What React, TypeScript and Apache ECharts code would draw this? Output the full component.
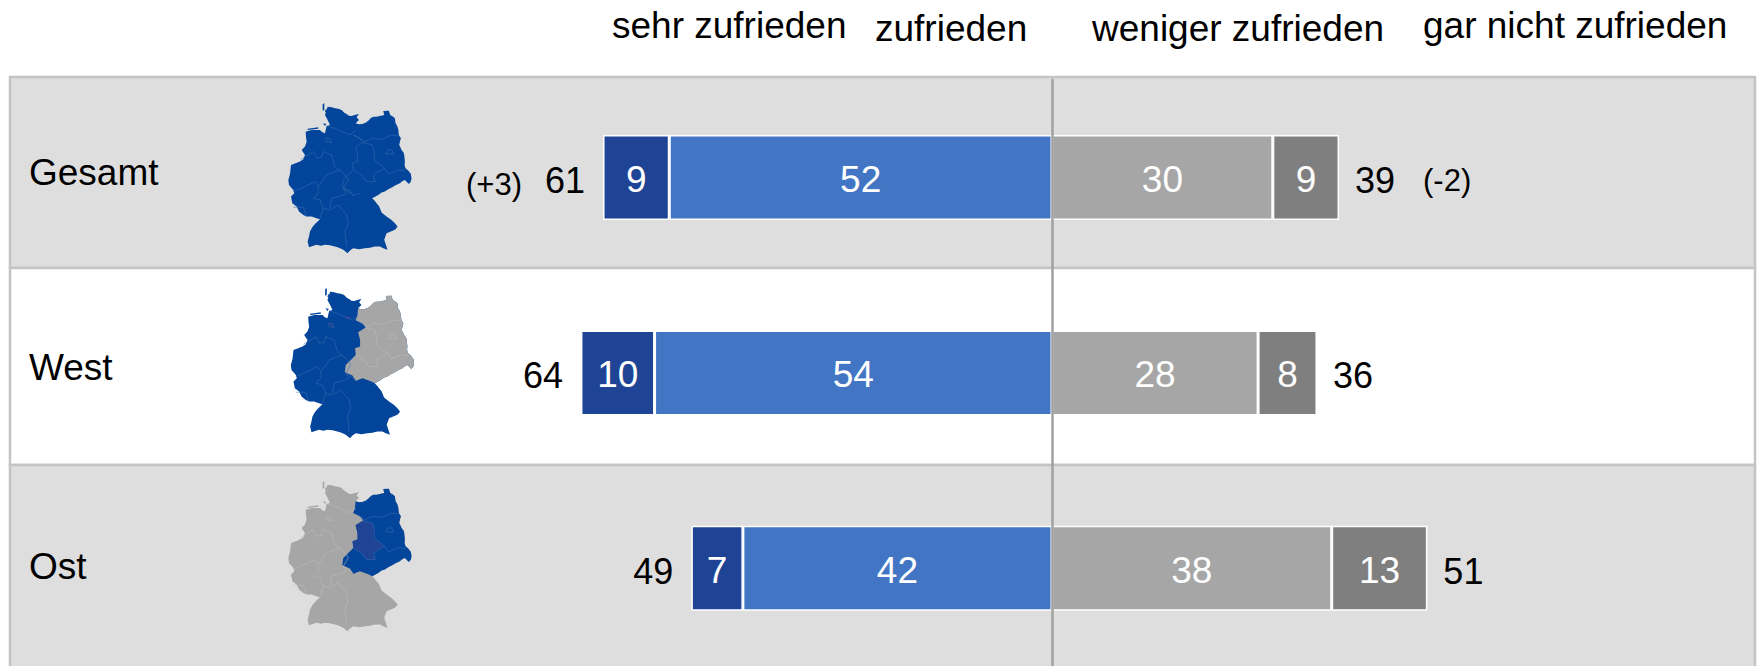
import React, { useEffect, useRef } from "react";
import * as echarts from "echarts";

const categories = ["Gesamt", "West", "Ost"];
const sehrZufrieden = [9, 10, 7];
const zufrieden = [52, 54, 42];
const wenigerZufrieden = [30, 28, 38];
const garNichtZufrieden = [9, 8, 13];
const totalPositive = [61, 64, 49];
const totalNegative = [39, 36, 51];
const changes = [
  { cat: "Gesamt", at: -61, text: "(+3)", side: "left" },
  { cat: "Gesamt", at: 39, text: "(-2)", side: "right" },
];
const headers = [
  { text: "sehr zufrieden", x: 612, y: 25 },
  { text: "zufrieden", x: 875, y: 28 },
  { text: "weniger zufrieden", x: 1092, y: 28 },
  { text: "gar nicht zufrieden", x: 1423, y: 25 },
];
const rowLabels = [
  { text: "Gesamt", y: 172 },
  { text: "West", y: 367 },
  { text: "Ost", y: 566 },
];

const OUTLINE =
  "M128 20L140 22L150 25L160 26L170 30L178 38L185 42L192 47L200 48L212 44L222 42L215 52L222 60L212 70L222 73L232 72L242 68L250 62L258 54L265 50L275 50L285 48L298 45L295 33L312 32L316 45L325 50L330 55L332 70L337 78L340 88L342 105L348 115L345 125L343 135L347 143L350 150L356 158L358 165L360 185L359 195L362 205L370 212L378 222L380 235L378 245L372 252L360 240L352 244L345 250L332 256L322 262L310 268L300 275L290 278L280 285L262 295L270 303L275 310L282 318L285 325L290 338L305 350L320 360L330 370L338 380L332 388L325 392L305 400L298 420L302 432L308 450L295 445L285 440L270 440L255 444L240 445L222 448L205 445L195 452L188 460L175 450L162 444L150 440L135 436L120 435L108 438L95 435L85 438L72 442L68 425L72 410L75 395L82 382L90 372L105 358L92 354L80 350L65 350L55 345L42 335L35 320L22 310L18 290L28 280L25 270L12 255L10 240L15 222L18 195L32 190L45 185L55 178L60 165L50 150L60 140L65 125L63 110L62 95L80 90L105 90L112 97L120 100L125 78L135 75L128 60L120 45L128 20Z" +
  "M113 12L118 10L118 30L113 32ZM122 28L128 30L126 38L120 36ZM68 86L100 82L100 86L68 90ZM114 70L124 72L120 78ZM322 60L330 62L326 68Z";
const EAST =
  "M212 70L222 73L232 72L242 68L250 62L258 54L265 50L275 50L285 48L298 45L295 33L312 32L316 45L325 50L330 55L332 70L337 78L340 88L342 105L348 115L345 125L343 135L347 143L350 150L356 158L358 165L360 185L359 195L362 205L370 212L378 222L380 235L378 245L372 252L360 240L352 244L345 250L332 256L322 262L310 268L300 275L290 278L280 285L262 295L252 290L240 285L225 280L215 284L205 288L195 272L172 262L175 240L190 225L205 210L203 190L218 185L218 165L212 142L235 128L225 115L205 105L210 90Z";
const ANHALT =
  "M212 142L235 128L262 135L268 155L268 180L300 205L280 215L265 228L272 245L245 245L230 225L205 210L203 190L218 185L218 165Z";
const CITIES = "M172 92L190 94L192 102L178 104ZM125 115L135 115L140 128L127 125Z";
const WEST_BORDERS =
  "M125 78L150 85L170 95L185 100L195 105L212 92" +
  "M48 178L85 155L95 175L110 172L115 155L140 165L150 200L165 212M25 275L60 260L90 245L100 260L125 225L150 215L165 212L180 225L190 240L175 265L185 280L160 290L140 295L135 325M100 260L100 280L85 295L105 300L115 325L135 330L160 315L185 345L190 370L180 395L185 440M105 355L115 325M25 322L55 322L65 350M122 115L135 115L140 128L125 125ZM175 265L205 285";
const EAST_BORDERS =
  "M205 105L225 115L240 125L262 115L290 118L320 105L342 108M235 128L262 135L268 155L268 180L300 205M300 205L310 222L340 210L362 212M300 205L280 215L265 228L272 245M205 210L230 225L245 245L272 245M302 162L308 150L320 150L327 162Z";
const DIVIDE = "M205 105L225 115L235 128L212 142L218 165L218 185L203 190L205 210L190 225L175 240L172 262L195 272L205 288L225 280";

echarts.graphic.registerShape("deOutline", echarts.graphic.extendPath(OUTLINE, {}));
echarts.graphic.registerShape("deEast", echarts.graphic.extendPath(EAST, {}));
echarts.graphic.registerShape("deAnhalt", echarts.graphic.extendPath(ANHALT, {}));
echarts.graphic.registerShape("deCities", echarts.graphic.extendPath(CITIES, {}));
echarts.graphic.registerShape("deWestLines", echarts.graphic.extendPath(WEST_BORDERS, {}));
echarts.graphic.registerShape("deEastLines", echarts.graphic.extendPath(EAST_BORDERS, {}));
echarts.graphic.registerShape("deDivide", echarts.graphic.extendPath(DIVIDE, {}));

const FONT = "Liberation Sans, Arial, sans-serif";
const MAP_BLUE = "#03459A";
const DEEP_BLUE = "#1F4496";
const MAP_GREY = "#A6A6A6";
const LINE_BLUE = "#3C6EB0";
const LINE_GREY = "#BCBCBC";
const MAP_SCALE = 1 / 3;

function mapParts(x: number, y: number, fills: [string, any][], lines: [string, string][]) {
  const common = { x, y, scaleX: MAP_SCALE, scaleY: MAP_SCALE, z: 1 };
  return [
    ...fills.map(([type, fill]) => ({ type, ...common, style: { fill } })),
    ...lines.map(([type, stroke]) => ({
      type,
      ...common,
      style: { fill: null, stroke, lineWidth: 1.6 },
    })),
  ];
}

function barSeries(name: string, values: number[], color: string, sign: number) {
  return {
    name,
    type: "bar",
    stack: "gesamt",
    barWidth: 85,
    z: 2,
    data: values.map((v) => v * sign),
    itemStyle: { color, borderColor: "#FFFFFF", borderWidth: 1.5 },
    label: {
      show: true,
      position: "inside",
      offset: [0, 2],
      color: "#FFFFFF",
      fontFamily: FONT,
      fontSize: 37,
      formatter: (p: any) => String(Math.abs(p.value)),
    },
  };
}

function totalSeries(values: number[], sign: number, pos: string, distance: number) {
  return {
    type: "scatter",
    symbolSize: 0,
    z: 3,
    itemStyle: { opacity: 1 },
    data: values.map((v, i) => [v * sign, categories[i]]),
    label: {
      show: true,
      position: pos,
      distance,
      offset: [0, 3],
      color: "#000000",
      opacity: 1,
      fontFamily: FONT,
      fontSize: 36,
      formatter: (p: any) => String(Math.abs(p.value[0])),
    },
  };
}

export default function App() {
  const ref = useRef<HTMLDivElement>(null);
  useEffect(() => {
    const chart = echarts.init(ref.current!, undefined, { renderer: "svg" });
    chart.setOption({
      animation: false,
      backgroundColor: "#FFFFFF",
      grid: { left: 316, top: 79.75, width: 1398.4, height: 589.5, containLabel: false },
      xAxis: { type: "value", min: -100, max: 90, show: false, splitLine: { show: false } },
      yAxis: {
        type: "category",
        data: categories,
        inverse: true,
        z: 5,
        axisLine: { show: true, onZero: true, lineStyle: { color: "#A0A0A0", width: 2.5 } },
        axisTick: { show: false },
        axisLabel: { show: false },
        splitLine: { show: false },
      },
      series: [
        barSeries("zufrieden", zufrieden, "#4276C4", -1),
        barSeries("sehr zufrieden", sehrZufrieden, "#1F4496", -1),
        barSeries("weniger zufrieden", wenigerZufrieden, "#A6A6A6", 1),
        barSeries("gar nicht zufrieden", garNichtZufrieden, "#7F7F7F", 1),
        totalSeries(totalPositive, -1, "left", 18),
        totalSeries(totalNegative, 1, "right", 16),
        ...changes.map((c) => ({
          type: "scatter",
          symbolSize: 0,
          z: 3,
          itemStyle: { opacity: 1 },
          data: [[c.at, c.cat]],
          label: {
            show: true,
            position: c.side,
            distance: c.side === "left" ? 81 : 84,
            offset: [0, c.side === "left" ? 7 : 3],
            color: "#000000",
            opacity: 1,
            fontFamily: FONT,
            fontSize: 31,
            formatter: c.text,
          },
        })),
      ],
      graphic: {
        elements: [
          { type: "rect", z: 0, shape: { x: 10, y: 77, width: 1745, height: 191 }, style: { fill: "#DEDEDE", stroke: "#C4C4C4", lineWidth: 2.5 } },
          { type: "rect", z: 0, shape: { x: 10, y: 268, width: 1745, height: 197 }, style: { fill: "#FFFFFF", stroke: "#C4C4C4", lineWidth: 2.5 } },
          { type: "rect", z: 0, shape: { x: 10, y: 465, width: 1745, height: 210 }, style: { fill: "#DEDEDE", stroke: "#C4C4C4", lineWidth: 2.5 } },
          ...mapParts(285, 100, [["deOutline", MAP_BLUE]], [
            ["deWestLines", LINE_BLUE],
            ["deEastLines", LINE_BLUE],
            ["deDivide", LINE_BLUE],
          ]),
          ...mapParts(287.5, 285, [["deOutline", MAP_BLUE], ["deEast", MAP_GREY], ["deCities", DEEP_BLUE]], [
            ["deWestLines", LINE_BLUE],
            ["deEastLines", LINE_GREY],
          ]),
          ...mapParts(285, 478, [["deOutline", MAP_GREY], ["deEast", MAP_BLUE], ["deAnhalt", DEEP_BLUE]], [
            ["deWestLines", LINE_GREY],
            ["deEastLines", LINE_BLUE],
          ]),
          ...headers.map((h) => ({
            type: "text",
            z: 1,
            style: { x: h.x, y: h.y, text: h.text, fill: "#000000", font: `37px ${FONT}`, textVerticalAlign: "middle" },
          })),
          ...rowLabels.map((r) => ({
            type: "text",
            z: 1,
            style: { x: 29, y: r.y, text: r.text, fill: "#000000", font: `37px ${FONT}`, textVerticalAlign: "middle" },
          })),
        ],
      },
    });
    return () => chart.dispose();
  }, []);
  return (
    <div
      ref={ref}
      style={{ position: "absolute", left: 0, top: 0, width: 1760, height: 666, overflow: "hidden" }}
    />
  );
}
